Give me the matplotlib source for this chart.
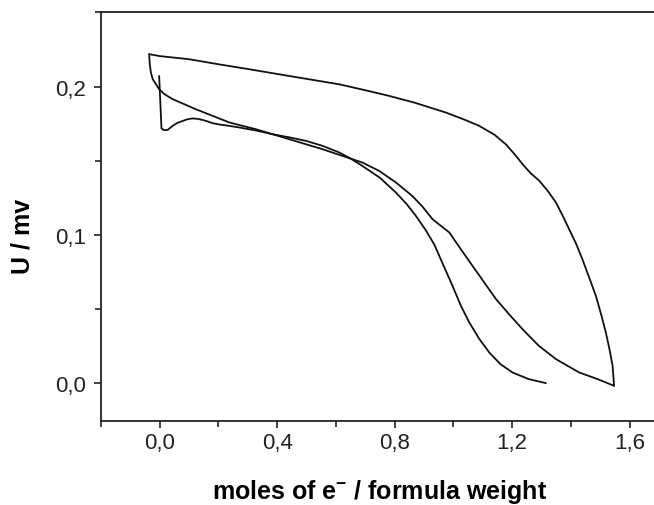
import matplotlib
matplotlib.use("Agg")
import matplotlib.pyplot as plt
from matplotlib.ticker import MultipleLocator, FuncFormatter

plt.rcParams['font.family'] = ['Liberation Sans', 'DejaVu Sans']
plt.rcParams['mathtext.default'] = 'regular'

# Outer loop, upper branch (from the start point out to the turning point)
upper_x = [-0.036, 0.000, 0.100, 0.200, 0.300, 0.441, 0.611, 0.700, 0.781, 0.870,
           0.974, 1.040, 1.088, 1.140, 1.179, 1.210, 1.235, 1.262, 1.292, 1.322,
           1.349, 1.372, 1.394, 1.418, 1.439, 1.462, 1.485, 1.503, 1.519, 1.532,
           1.542, 1.547]
upper_y = [0.2218, 0.2205, 0.2184, 0.2150, 0.2118, 0.2071, 0.2015, 0.1975, 0.1937, 0.1890,
           0.1825, 0.1775, 0.1735, 0.1675, 0.1610, 0.1540, 0.1478, 0.1418, 0.1366, 0.1295,
           0.1219, 0.1130, 0.1039, 0.0940, 0.0837, 0.0715, 0.0590, 0.0465, 0.0343, 0.0225,
           0.0119, -0.0016]

# Outer loop, return branch (from the turning point back to the start)
return_x = [1.547, 1.490, 1.428, 1.349, 1.290, 1.235, 1.190, 1.145, 1.105, 1.065,
            1.025, 0.986, 0.955, 0.929, 0.895, 0.860, 0.804, 0.747, 0.690, 0.611,
            0.554, 0.441, 0.328, 0.237, 0.123, 0.044, 0.015, -0.002, -0.013, -0.024,
            -0.030, -0.034, -0.036]
return_y = [-0.0016, 0.0030, 0.0074, 0.0164, 0.0255, 0.0366, 0.0465, 0.0568, 0.0680, 0.0792,
            0.0905, 0.1017, 0.1065, 0.1106, 0.1190, 0.1263, 0.1354, 0.1432, 0.1488, 0.1540,
            0.1578, 0.1645, 0.1712, 0.1758, 0.1847, 0.1915, 0.1950, 0.1982, 0.2016, 0.2050,
            0.2094, 0.2150, 0.2218]

# Second curve with the initial spike
inner_x = [-0.002, 0.006, 0.015, 0.027, 0.044, 0.060, 0.078, 0.095, 0.112, 0.130,
           0.146, 0.163, 0.180, 0.210, 0.237, 0.271, 0.330, 0.384, 0.440, 0.498,
           0.555, 0.611, 0.650, 0.690, 0.750, 0.804, 0.840, 0.872, 0.905, 0.935,
           0.965, 0.997, 1.025, 1.054, 1.088, 1.122, 1.160, 1.201, 1.255, 1.315]
inner_y = [0.2071, 0.1717, 0.1706, 0.1708, 0.1735, 0.1755, 0.1768, 0.1780, 0.1785, 0.1782,
           0.1775, 0.1765, 0.1753, 0.1742, 0.1735, 0.1724, 0.1703, 0.1679, 0.1658, 0.1634,
           0.1600, 0.1556, 0.1515, 0.1465, 0.1385, 0.1286, 0.1210, 0.1129, 0.1035, 0.0935,
           0.0800, 0.0657, 0.0525, 0.0411, 0.0300, 0.0209, 0.0130, 0.0074, 0.0030, 0.0002]

x_ticks = [0.0, 0.4, 0.8, 1.2, 1.6]
y_ticks = [0.0, 0.1, 0.2]

W, H = 654, 506
fig = plt.figure(figsize=(W / 100, H / 100), dpi=100)
ax = fig.add_axes([101 / W, (H - 422.3) / H, 558 / W, 409 / H])

for xs, ys in [(upper_x, upper_y), (return_x, return_y), (inner_x, inner_y)]:
    ax.plot(xs, ys, color='#111111', lw=1.3, solid_joinstyle='round',
            solid_capstyle='round')

ax.set_xlim(-0.2, 1.7)
ax.set_ylim(-0.0255, 0.25)
ax.set_xticks(x_ticks)
ax.set_yticks(y_ticks)
ax.xaxis.set_minor_locator(MultipleLocator(0.2))
ax.yaxis.set_minor_locator(MultipleLocator(0.05))
fmt = FuncFormatter(lambda v, p: f"{v:.1f}".replace('.', ','))
ax.xaxis.set_major_formatter(fmt)
ax.yaxis.set_major_formatter(fmt)

ax.tick_params(which='both', direction='out', width=1.2, color='#222222',
               labelsize=16, labelcolor='#222222', top=False, right=False)
ax.tick_params(which='major', length=5)
ax.tick_params(axis='x', which='major', pad=3)
ax.tick_params(axis='y', which='major', pad=6)
ax.tick_params(which='minor', length=4)

for side in ['left', 'bottom', 'top']:
    ax.spines[side].set_linewidth(1.3)
    ax.spines[side].set_color('#222222')
ax.spines['right'].set_visible(False)

ax.set_xlabel('moles of e$^{-}$ / formula weight', fontsize=18, fontweight='bold',
              labelpad=17)
ax.set_ylabel('U / mv', fontsize=18, fontweight='bold')
ax.yaxis.set_label_coords(-0.12, 0.455)

fig.savefig('out.png', dpi=100)
